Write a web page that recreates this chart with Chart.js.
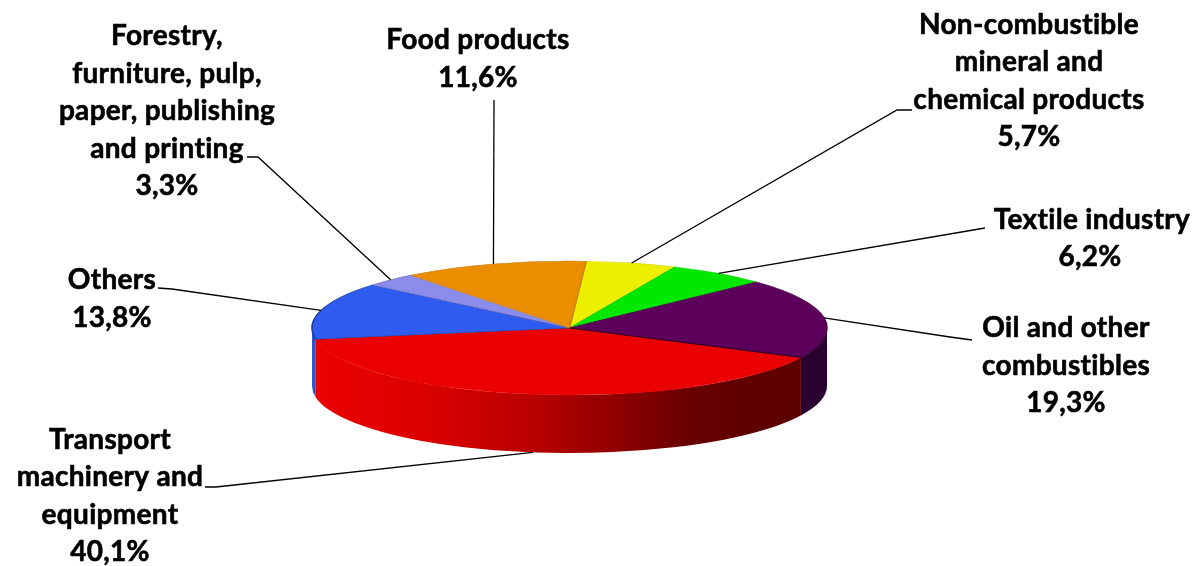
<!DOCTYPE html>
<html>
<head>
<meta charset="utf-8">
<style>
html,body{margin:0;padding:0;background:#fff;}
#chart1{display:block;}
</style>
<script src="https://cdn.jsdelivr.net/npm/chart.js@4/dist/chart.umd.min.js"></script>
</head>
<body>
<canvas id="chart1" width="1197" height="566"></canvas>
<script>
var categorias = [
	"Non-combustible mineral and chemical products",
	"Textile industry",
	"Oil and other combustibles",
	"Transport machinery and equipment",
	"Others",
	"Forestry, furniture, pulp, paper, publishing and printing",
	"Food products"
];
var valores = [5.7, 6.2, 19.3, 40.1, 13.8, 3.3, 11.6];
var colores = ["#eeee00", "#00e800", "#5c005c", "#ea0000", "#2e5cf0", "#8c8cec", "#ea8e00"];
var bordes = ["#d8c800", "#00d000", "#4a004a", "#ea0000", "#1c3a96", "#6a6ab0", "#c88018"];

// how each label breaks, and where it sits
var lineas = [
	["Non-combustible", "mineral and", "chemical products"],
	["Textile industry"],
	["Oil and other", "combustibles"],
	["Transport", "machinery and", "equipment"],
	["Others"],
	["Forestry,", "furniture, pulp,", "paper, publishing", "and printing"],
	["Food products"]
];
var textoX = [1029, 1092, 1066, 110, 112, 167, 478];
var textoY = [25, 220, 328, 440, 280, 36, 40];
var valorX = [1029, 1090, 1066, 110, 112, 167, 478];
var salto = [37.3, 37, 37.5, 37.3, 37.5, 37.5, 38];
var codos = [
	[[912, 110], [897, 110]],
	[[985, 228]],
	[[972, 340], [950, 337]],
	[[205, 487], [216, 487]],
	[[158, 288], [172, 289]],
	[[247, 157], [258, 157]],
	[[494, 100]]
];

var centroX = 569.5, centroY = 328, radio = 257.5, aplastado = 67 / 257.5, alto = 58;

function a_pantalla(arc, ang){
	return {
		x: centroX + Math.cos(ang) * arc.outerRadius,
		y: centroY + Math.sin(ang) * arc.outerRadius * aplastado
	};
}

function gradiente(ctx, i){
	var g;
	if(i == 3){
		g = ctx.createLinearGradient(320, 0, 795, 0);
		g.addColorStop(0, "#ea0000");
		g.addColorStop(0.22, "#dc0000");
		g.addColorStop(0.45, "#b80000");
		g.addColorStop(0.62, "#900000");
		g.addColorStop(0.8, "#640000");
		g.addColorStop(1, "#5c0000");
		return g;
	}
	if(i == 4){
		g = ctx.createLinearGradient(312, 0, 320, 0);
		g.addColorStop(0, "#2e5cd8");
		g.addColorStop(1, "#1c3a8c");
		return g;
	}
	return "#2a0030";
}

var pared3d = {
	id: "pared3d",
	beforeDatasetsDraw: function(chart){
		var ctx = chart.ctx;
		var arcos = chart.getDatasetMeta(0).data;
		// only these three slices reach the front of the pie
		[4, 2, 3].forEach(function(i){
			var a = arcos[i];
			var ini = Math.max(a.startAngle, 0);
			var fin = Math.min(a.endAngle, Math.PI);
			ctx.beginPath();
			ctx.ellipse(centroX, centroY, a.outerRadius, a.outerRadius * aplastado, 0, ini, fin);
			ctx.ellipse(centroX, centroY + alto, a.outerRadius, a.outerRadius * aplastado, 0, fin, ini, true);
			ctx.closePath();
			ctx.fillStyle = gradiente(ctx, i);
			ctx.fill();
		});

		// squash the library's pie into the top face
		var c = arcos[0];
		ctx.save();
		ctx.translate(centroX, centroY);
		ctx.scale(1, aplastado);
		ctx.translate(-c.x, -c.y);
	},
	afterDatasetsDraw: function(chart){
		var ctx = chart.ctx;
		ctx.restore();
		var arcos = chart.getDatasetMeta(0).data;

		ctx.save();
		// dark edge between purple and red
		var q = a_pantalla(arcos[3], arcos[3].startAngle);
		ctx.strokeStyle = "#30002a";
		ctx.lineWidth = 1.2;
		ctx.beginPath();
		ctx.moveTo(centroX, centroY);
		ctx.lineTo(q.x, q.y);
		ctx.stroke();

		ctx.strokeStyle = "#000";
		ctx.lineWidth = 1.3;
		arcos.forEach(function(a, i){
			var medio = (a.startAngle + a.endAngle) / 2;
			var p = a_pantalla(a, medio);
			if(Math.sin(medio) > 0.5){ p.y += alto; }
			ctx.beginPath();
			codos[i].forEach(function(c, j){
				if(j == 0){ ctx.moveTo(c[0], c[1]); } else { ctx.lineTo(c[0], c[1]); }
			});
			ctx.lineTo(p.x, p.y);
			ctx.stroke();
		});

		ctx.fillStyle = "#000";
		ctx.lineWidth = 0.6;
		ctx.font = "bold 28px Lato";
		ctx.letterSpacing = "0.3px";
		ctx.textAlign = "center";
		ctx.textBaseline = "middle";
		function escribe(t, x, y){
			ctx.fillText(t, x, y);
			ctx.strokeText(t, x, y);
		}
		lineas.forEach(function(l, i){
			l.forEach(function(t, j){
				escribe(t, textoX[i], textoY[i] + j * salto[i]);
			});
			escribe(valores[i].toFixed(1).replace(".", ",") + "%", valorX[i], textoY[i] + l.length * salto[i]);
		});
		ctx.restore();
	}
};

var datos = {
	type: "pie",
	data: {
		labels: categorias,
		datasets: [{
			data: valores,
			backgroundColor: colores,
			borderColor: bordes,
			borderWidth: 1.5
		}]
	},
	options: {
		responsive: false,
		animation: false,
		rotation: 3.7,
		radius: radio,
		plugins: {
			legend: { display: false },
			tooltip: { enabled: false }
		}
	},
	plugins: [pared3d]
};

var canvas = document.getElementById("chart1").getContext("2d");
window.pie = new Chart(canvas, datos);
</script>
</body>
</html>
